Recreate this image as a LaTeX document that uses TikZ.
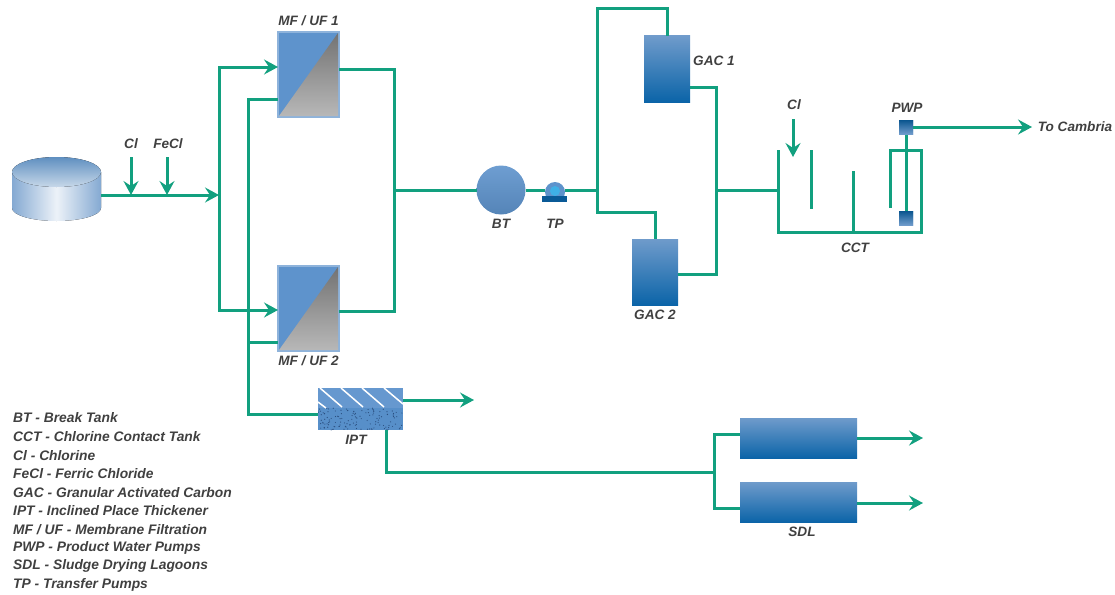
\documentclass[tikz,border=0pt]{standalone}
\usepackage{fontspec}
\setmainfont{Liberation Sans}
\usetikzlibrary{arrows.meta}
\definecolor{pipe}{HTML}{12A07F}
\definecolor{lbl}{HTML}{404040}
\definecolor{gactop}{HTML}{6F9BCB}
\definecolor{gacbot}{HTML}{0B64A8}
\definecolor{steel}{HTML}{5E93CC}
\definecolor{tanktop}{HTML}{5F8FC0}
\definecolor{tankside}{HTML}{84A9D2}
\definecolor{pumpeye}{HTML}{3FB0E6}
\definecolor{speck}{HTML}{2A4F80}
\tikzset{
 pipeline/.style={draw=pipe,line width=3pt,line join=miter},
 flow/.style={pipeline,-{Stealth[length=14pt,width=15pt,inset=5pt]}},
 lab/.style={text=lbl,font=\bfseries\itshape\fontsize{13.6}{15}\selectfont,inner sep=0pt,anchor=center},
 key/.style={text=lbl,font=\bfseries\itshape\fontsize{13.8}{15}\selectfont,inner sep=0pt,anchor=west},
 vessel/.style={minimum width=#1,inner sep=0pt,outer sep=0pt,top color=gactop,bottom color=gacbot},
 wall/.style={draw=pipe,line width=3pt},
 pumpbox/.style={minimum size=14pt,inner sep=0pt,outer sep=0pt,top color=gacbot!85!black,bottom color=gactop},
}
\begin{document}
\begin{tikzpicture}[x=1pt,y=-1pt]
\useasboundingbox (0,0) rectangle (1115,594);
% tank
\fill[left color=tankside,right color=tankside,middle color=tankside!15!white]
  (12,172) -- (12,208) arc[x radius=44.5,y radius=13,start angle=180,end angle=0] -- (101,172) -- cycle;
\fill[top color=tanktop,bottom color=tanktop!35!white] (56.5,172) ellipse[x radius=44.5,y radius=15];
% membranes
\foreach \n/\y in {mfa/32,mfb/266}{
 \node[draw=steel!70!white,line width=1.5pt,fill=steel,minimum width=61pt,minimum height=85pt,inner sep=0pt,outer sep=0pt,anchor=north west] (\n) at (278,\y) {};
 \shade[bottom color=black!28,top color=black!55] ([shift={(1,-1)}]\n.south west) -- ([shift={(-1,-1)}]\n.south east) -- ([shift={(-1,1)}]\n.north east) -- cycle;
}
\node[lab] (lmfa) at (308.5,21) {MF / UF 1};
\node[lab] (lmfb) at (308.5,361) {MF / UF 2};
% free ends
\coordinate (tankE) at (101,195);
\coordinate (jn) at (219,195);
\coordinate (cla) at (131,157); \coordinate (claE) at (131,195);
\coordinate (fe) at (167,157); \coordinate (feE) at (167,195);
\coordinate (clb) at (793,119); \coordinate (clbE) at (793,157);
\coordinate (cam) at (1032,127);
\coordinate (ea) at (923,438); \coordinate (eb) at (923,503);
\coordinate (ia) at (474,400);
% break tank, pump
\node[circle,minimum size=49pt,inner sep=0pt,outer sep=0pt,top color=steel!90!white,bottom color=steel!90!black] (bt) at (501,190) {};
\node[lab] (lbt) at (501,224) {BT};
\node[circle,minimum size=20pt,inner sep=0pt,outer sep=0pt] (tp) at (555,190) {};
\node[lab] (ltp) at (555,224) {TP};
% GAC
\node[vessel=46pt,minimum height=66pt,anchor=north west] (gaca) at (644,36) {};
\node[vessel=46pt,minimum height=66pt,anchor=north west] (gacb) at (632,239) {};
\node[lab] (lgaca) at (714,61) {GAC 1};
\node[lab] (lgacb) at (655,315) {GAC 2};
% IPT
\node[minimum width=85pt,minimum height=42pt,inner sep=0pt,outer sep=0pt,anchor=north west,fill=steel!95!white] (ipt) at (318,388) {};
\begin{scope}
\clip (318,388) rectangle (403,430);
\fill[steel!92!gacbot] (318,408) rectangle (403,430);
\pgfmathsetseed{7}
\foreach \k in {1,...,130}{
  \pgfmathsetmacro\px{318+85*rnd}
  \pgfmathsetmacro\py{408+22*rnd}
  \fill[speck] (\px,\py) circle[radius=0.6];
}
\foreach \sx in {320,341,362}
  \draw[white,line width=1.5pt] (\sx,388) -- ++(22,19);
\draw[white,line width=1.5pt] (384,388) -- (403,404);
\draw[white,line width=1.5pt] (318,402) -- (326,408);
\end{scope}
\node[lab] (lipt) at (356,440) {IPT};
% SDL
\node[vessel=117pt,minimum height=40pt,anchor=north west] (sdla) at (740,418) {};
\node[vessel=117pt,minimum height=40pt,anchor=north west] (sdlb) at (740,482) {};
\node[lab] (lsdl) at (802,532) {SDL};
% PWP
\node[pumpbox] (pwpa) at (906,127) {};
\node[pumpbox] (pwpb) at (906,218) {};
\node[lab] (lpwp) at (907,108) {PWP};
\node[lab] (lcct) at (855,248) {CCT};
\node[lab] (lcamb) at (1075,127) {To Cambria};
\node[lab] (lcla) at (131,144) {Cl};
\node[lab] (lfe) at (168,144) {FeCl};
\node[lab] (lclb) at (794,105) {Cl};
% pipes
\draw[flow] (tankE) -- (jn);
\draw[flow] (cla) -- (claE);
\draw[flow] (fe) -- (feE);
\draw[flow] (jn) |- (mfa.west |- 0,67);
\draw[flow] (jn) |- (mfb.west |- 0,310);
\draw[pipeline] (mfa.west |- 0,99) -| (248,414) -- (ipt.west |- 0,414);
\draw[pipeline] (248,342) -- (mfb.west |- 0,342);
\draw[pipeline] (mfa.east |- 0,69) -| (394,311) -- (mfb.east |- 0,311);
\draw[pipeline] (394,190) -- (bt.west);
\draw[pipeline] (bt.east) -- (tp.west);
\draw[pipeline] (tp.east) -- (597,190);
\draw[pipeline] (gaca.north) |- (597,9) -- (597,212) -| (gacb.north);
\draw[pipeline] (gaca.east |- 0,87) -| (716,274) -- (gacb.east |- 0,274);
\draw[pipeline] (716,190) -- (778,190);
\draw[flow] (clb) -- (clbE);
\draw[wall] (778,150) -- (778,232) -- (921,232) -- (921,150) -- (890,150) -- (890,208);
\draw[wall] (811,150) -- (811,209);
\draw[wall] (853,171) -- (853,232);
\draw[pipeline] (pwpa) -- (pwpb);
\node[pumpbox] at (pwpa) {};
\node[pumpbox] at (pwpb) {};
\draw[flow] (pwpa.east) -- (cam);
\draw[flow] (ipt.east |- ia) -- (ia);
\draw[pipeline] (ipt.south -| 386,0) |- (714,472);
\draw[pipeline] (sdla.west |- 0,434) -| (714,508) -- (sdlb.west |- 0,508);
\draw[flow] (sdla.east |- ea) -- (ea);
\draw[flow] (sdlb.east |- eb) -- (eb);
% transfer pump drawn over its pipes
\fill[steel] (tp.center) ++(0,2) circle[radius=10];
\fill[pumpeye] (555,191) circle[radius=5];
\fill[gacbot!90!black] (542,196) rectangle (567,202);
% legend
\foreach \i/\t in {0/{BT - Break Tank},1/{CCT - Chlorine Contact Tank},2/{Cl - Chlorine},3/{FeCl - Ferric Chloride},4/{GAC - Granular Activated Carbon},5/{IPT - Inclined Place Thickener},6/{MF / UF - Membrane Filtration},7/{PWP - Product Water Pumps},8/{SDL - Sludge Drying Lagoons},9/{TP - Transfer Pumps}}
  \node[key] (leg\i) at (13,418+18.55*\i) {\t};
\end{tikzpicture}
\end{document}
